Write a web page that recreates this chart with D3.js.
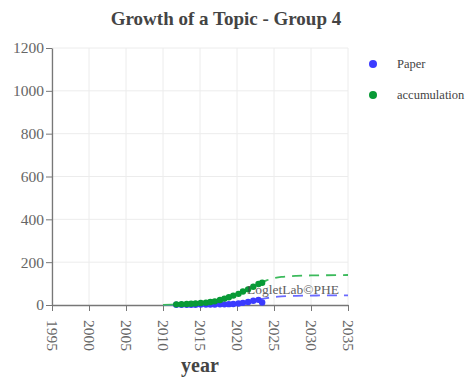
<!DOCTYPE html>
<html><head><meta charset="utf-8">
<script src="https://cdn.jsdelivr.net/npm/d3@7"></script>
<style>body{margin:0;background:#fff}svg{display:block}</style>
</head><body><svg id="c" width="473" height="383"></svg>
<script>
const xTicks = [1995,2000,2005,2010,2015,2020,2025,2030,2035];
const yTicks = [0,200,400,600,800,1000,1200];
// observed points
const dataYears = [2011.8,2012.5,2013.2,2013.8,2014.4,2015.1,2015.8,2016.4,2017.0,2017.7,2018.3,2018.9,2019.5,2020.2,2020.8,2021.5,2022.2,2022.9,2023.4];
const paperVals = [1,1,1,1,1,2,2,2,2,3,3,4,5,7,10,14,20,24,12];
const accumVals = [3,4,5,6,7,9,11,14,17,23,30,36,44,52,63,73,85,98,104];
// fitted curves
const fitYears = [2010,2012,2014,2016,2017,2018,2019,2020,2021,2022,2023,2024,2025,2026,2027,2028,2030,2032,2035];
const fitAccum = [1,3,7,14,20,28,38,51,66,83,100,115,125,131,134,136,138,139,140];
const fitPaper = [0.5,1,1,2,3,4,6,9,13,19,26,32,37,40,42,43,44,45,45];
const splitYear = 2023;

const svg = d3.select("#c");
const m = {l:52, r:125, t:48, b:78};
const W = 473, H = 383;
const x = d3.scaleLinear().domain([1995,2035]).range([m.l, W-m.r]);
const y = d3.scaleLinear().domain([0,1200]).range([H-m.b, m.t]);
const serif = "'Liberation Serif','DejaVu Serif',serif";

// grid
svg.append("g").selectAll("line").data(xTicks).join("line")
  .attr("x1",d=>x(d)).attr("x2",d=>x(d)).attr("y1",y(0)).attr("y2",y(1200))
  .attr("stroke","#ececec");
svg.append("g").selectAll("line").data(yTicks.slice(1)).join("line")
  .attr("x1",x(1995)).attr("x2",x(2035)).attr("y1",d=>y(d)).attr("y2",d=>y(d))
  .attr("stroke","#ececec");

// axes
const xa = svg.append("g").attr("transform",`translate(0,${y(0)})`)
  .call(d3.axisBottom(x).tickValues(xTicks).tickFormat(d3.format("d")).tickSize(6).tickSizeOuter(0));
xa.selectAll("text").attr("transform","rotate(90)").attr("text-anchor","start")
  .attr("x",15).attr("y",0).attr("dy","0.35em");
const ya = svg.append("g").attr("transform",`translate(${m.l},0)`)
  .call(d3.axisLeft(y).tickValues(yTicks).tickFormat(d3.format("d")).tickSize(6).tickSizeOuter(0));
[xa,ya].forEach(a=>{
  a.attr("font-family",null);
  a.select(".domain").attr("stroke","#777").attr("stroke-width",1.3);
  a.selectAll(".tick line").attr("stroke","#777");
  a.selectAll("text").attr("fill","#666").style("font-family",serif).style("font-size","15.5px");
});
ya.selectAll("text").attr("x",-8);

const line = d3.line().x(d=>x(d[0])).y(d=>y(d[1])).curve(d3.curveMonotoneX);
function drawFit(vals, dash){
  const pts = fitYears.map((yr,i)=>[yr, vals[i]]);
  const solid = pts.filter(p=>p[0]<=splitYear);
  const dashed = pts.filter(p=>p[0]>=splitYear);
  svg.append("path").attr("d",line(solid)).attr("fill","none").attr("stroke",dash).attr("stroke-width",1.8);
  svg.append("path").attr("d",line(dashed)).attr("fill","none").attr("stroke",dash)
    .attr("stroke-width",1.8).attr("stroke-dasharray","10,7");
}
drawFit(fitPaper, "#6a6aff");
drawFit(fitAccum, "#3cba5c");

svg.append("g").selectAll("circle").data(dataYears).join("circle")
  .attr("cx",d=>x(d)).attr("cy",(d,i)=>y(paperVals[i])).attr("r",3.2).attr("fill","#3b3bff");
svg.append("g").selectAll("circle").data(dataYears).join("circle")
  .attr("cx",d=>x(d)).attr("cy",(d,i)=>y(accumVals[i])).attr("r",3.2).attr("fill","#089a36");

// watermark
svg.append("text").attr("x",293).attr("y",294).attr("text-anchor","middle")
  .style("font-family",serif).style("font-size","13.5px").attr("fill","#444").attr("opacity",0.85)
  .text("LogletLab©PHE");

// title
svg.append("text").attr("x",226).attr("y",25).attr("text-anchor","middle")
  .style("font-family",serif).style("font-size","19px").style("font-weight","bold").attr("fill","#444")
  .text("Growth of a Topic - Group 4");
// x label
svg.append("text").attr("x",200).attr("y",372).attr("text-anchor","middle")
  .style("font-family",serif).style("font-size","20px").style("font-weight","bold").attr("fill","#444")
  .text("year");

// legend
const legend = [["Paper","#3b3bff"],["accumulation","#089a36"]];
const lg = svg.append("g").selectAll("g").data(legend).join("g")
  .attr("transform",(d,i)=>`translate(373,${64+i*31})`);
lg.append("circle").attr("r",4).attr("fill",d=>d[1]);
lg.append("text").attr("x",24).attr("dy","0.35em").style("font-family",serif).style("font-size","12.5px")
  .attr("fill","#444").text(d=>d[0]);
</script></body></html>
